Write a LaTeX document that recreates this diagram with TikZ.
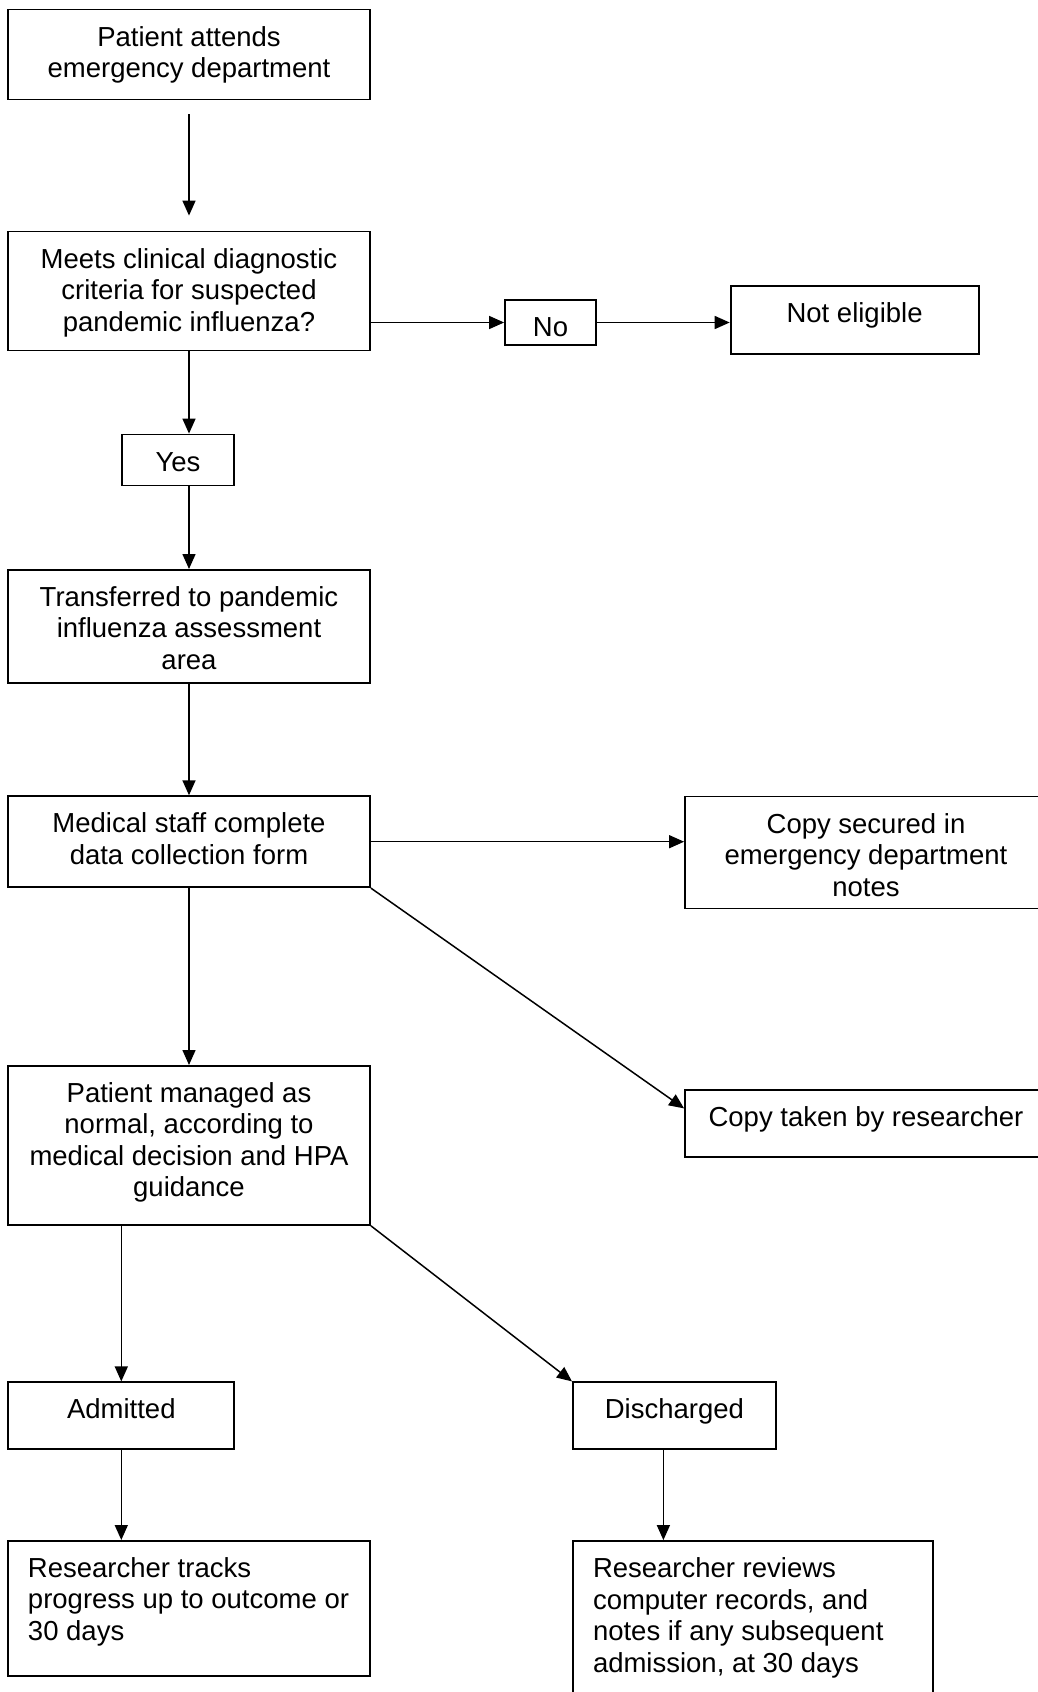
\documentclass[tikz,border=0pt]{standalone}
\usepackage{fontspec}
\setmainfont{Liberation Sans}
\usetikzlibrary{arrows.meta}

% text set from the top of a fixed box: width, height, text
\newcommand{\boxc}[3]{\parbox[c][#2pt][t]{#1pt}{\centering\rule{0pt}{36.5pt}#3\par}}
\newcommand{\boxl}[3]{\hspace*{20pt}\parbox[c][#2pt][t]{\dimexpr#1pt-20pt\relax}{\raggedright\rule{0pt}{36.5pt}#3\par}}

\begin{document}
\begin{tikzpicture}[
  x=1pt, y=-1pt,
  every node/.style={inner sep=0pt, font=\fontsize{27.5}{31.5}\selectfont},
  stage box/.style={draw, line width=1.8pt},
  flow edge/.style={-{Triangle[length=15pt,width=13pt]}, line width=1.5pt}
]
\useasboundingbox (0,0) rectangle (1037,1692);
% Define the nodes
\node[stage box] (attends) at (189,54.5) {\boxc{362}{90}{Patient attends\\emergency department}};
\node[stage box] (meets) at (189,291) {\boxc{362}{119}{Meets clinical diagnostic\\criteria for suspected\\pandemic influenza?}};
\node[stage box] (no) at (550.5,322.5) {\boxc{91}{45}{No}};
\node[stage box] (notelig) at (854.6,320) {\boxc{248}{68}{Not eligible}};
\node[stage box] (yes) at (178,460) {\boxc{112}{51}{Yes}};
\node[stage box] (transferred) at (189,626.4) {\boxc{362}{113}{Transferred to pandemic\\influenza assessment\\area}};
\node[stage box] (medical) at (189,841.7) {\boxc{362}{91}{Medical staff complete\\data collection form}};
\node[stage box] (copysec) at (866,852.5) {\boxc{362}{112}{Copy secured in\\emergency department\\notes}};
\node[stage box] (copytaken) at (866,1123.4) {\boxc{362}{67}{Copy taken by researcher}};
\node[stage box] (managed) at (189,1145.4) {\boxc{362}{159}{Patient managed as\\normal, according to\\medical decision and HPA\\guidance}};
\node[stage box] (admitted) at (121.3,1415.8) {\boxc{226}{67}{Admitted}};
\node[stage box] (discharged) at (674.4,1415.8) {\boxc{203}{67}{Discharged}};
\node[stage box] (tracks) at (189,1608.4) {\boxl{362}{135}{Researcher tracks\\progress up to outcome or\\30 days}};
\node[stage box] (reviews) at (753,1620.5) {\boxl{360}{159}{Researcher reviews\\computer records, and\\notes if any subsequent\\admission, at 30 days}};
\coordinate (dsc) at ([xshift=-11pt]discharged.south);
% Define the edges
\draw[flow edge, shorten <=14pt, shorten >=15pt] (attends) -- (meets);
\draw[flow edge] (meets.east |- no.west) -- (no.west);
\draw[flow edge] (no.east) -- (notelig.west |- no.east);
\draw[flow edge] (meets.south) -- (meets.south |- yes.north);
\draw[flow edge] (yes.south -| transferred.north) -- (transferred.north);
\draw[flow edge] (transferred) -- (medical);
\draw[flow edge] (medical.east) -- (medical.east -| copysec.west);
\draw[flow edge] (medical.south east) -- ([yshift=15pt]copytaken.west);
\draw[flow edge] (medical) -- (managed);
\draw[flow edge] (admitted.north |- managed.south) -- (admitted.north);
\draw[flow edge] (managed.south east) -- (discharged.north west);
\draw[flow edge] (admitted.south) -- (admitted.south |- tracks.north);
\draw[flow edge] (dsc) -- (dsc |- reviews.north);
\end{tikzpicture}
\end{document}
